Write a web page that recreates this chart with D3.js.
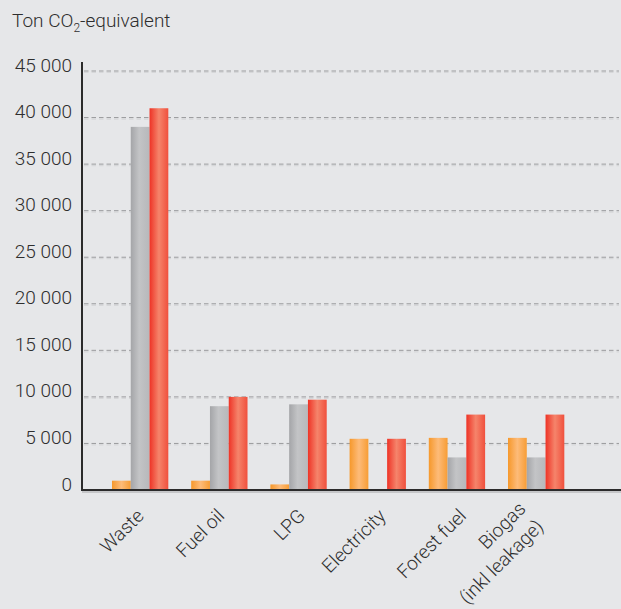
<!DOCTYPE html>
<html>
<head>
<meta charset="utf-8">
<script src="https://cdn.jsdelivr.net/npm/d3@7"></script>
<style>
  html, body { margin: 0; padding: 0; background: #e6e7e9; }
  svg { display: block; }
  text { font-family: Roboto, "Open Sans", sans-serif; fill: #2e2e2e; font-weight: 300; }
</style>
</head>
<body>
<svg id="chart" width="621" height="609"></svg>
<script>
const categories = ["Waste", "Fuel oil", "LPG", "Electricity", "Forest fuel", "Biogas\n(inkl leakage)"];
const seriesNames = ["A", "B", "C"];
const seriesA = [1000, 1000, 600, 5500, 5600, 5600];     // orange
const seriesB = [39000, 9000, 9200, 0, 3500, 3500];      // gray
const seriesC = [41000, 10000, 9700, 5500, 8100, 8100];  // red
const yTicks = [0, 5000, 10000, 15000, 20000, 25000, 30000, 35000, 40000, 45000];
const tickLabels = ["0", "5 000", "10 000", "15 000", "20 000", "25 000", "30 000", "35 000", "40 000", "45 000"];
const yTitle = "Ton CO";

const W = 621, H = 609;
const svg = d3.select("#chart");
const defs = svg.append("defs");

function hGrad(id, stops) {
  const g = defs.append("linearGradient").attr("id", id)
    .attr("x1", "0%").attr("x2", "100%").attr("y1", "0%").attr("y2", "0%");
  stops.forEach(([o, c]) => g.append("stop").attr("offset", o).attr("stop-color", c));
}
hGrad("gOrange", [["0%", "#f6982b"], ["50%", "#fdbb79"], ["100%", "#f79d35"]]);
hGrad("gGray", [["0%", "#a4a5a8"], ["45%", "#c3c4c6"], ["100%", "#b7b8bb"]]);
hGrad("gRed", [["0%", "#ee3326"], ["50%", "#f5846b"], ["100%", "#f0503d"]]);
const fills = ["url(#gOrange)", "url(#gGray)", "url(#gRed)"];

const axisX = 82, axisY = 490;
const y = d3.scaleLinear().domain([0, 45000]).range([axisY, 71]);
const x = d3.scaleBand().domain(categories).range([89.1, 587.2]).padding(0.289);
const xs = d3.scaleBand().domain(seriesNames).range([0, x.bandwidth()]);
const xl = d3.scalePoint().domain(categories).range([145, 548]);

// gridlines
const grid = svg.append("g");
yTicks.filter(t => t > 0).forEach(t => {
  grid.append("line").attr("x1", axisX + 2).attr("x2", 619)
    .attr("y1", y(t) + 1.5).attr("y2", y(t) + 1.5)
    .attr("stroke", "#d6d7d9").attr("stroke-width", 1.2).attr("stroke-dasharray", "4.5,3");
  grid.append("line").attr("x1", axisX + 2).attr("x2", 619)
    .attr("y1", y(t)).attr("y2", y(t))
    .attr("stroke", "#9a9b9d").attr("stroke-width", 1).attr("stroke-dasharray", "4.5,3");
});

// y axis tick labels
const yAxis = d3.axisLeft(y).tickValues(yTicks).tickSize(0).tickPadding(0)
  .tickFormat((d, i) => tickLabels[i]);
const yg = svg.append("g").attr("transform", `translate(72,0)`).call(yAxis);
yg.select(".domain").remove();
yg.selectAll("text").attr("dy", 0).style("font-size", "19px").attr("fill", "#2e2e2e")
  .attr("font-family", "Roboto, sans-serif").attr("font-weight", 300);

// bars
const data = categories.map((c, i) => ({ c, v: [seriesA[i], seriesB[i], seriesC[i]] }));
const groups = svg.append("g").selectAll("g").data(data).join("g")
  .attr("transform", d => `translate(${x(d.c)},0)`);
groups.selectAll("rect").data(d => d.v.map((v, k) => ({ v, k })).filter(e => e.v > 0)).join("rect")
  .attr("x", e => xs(seriesNames[e.k]))
  .attr("width", xs.bandwidth())
  .attr("y", e => y(e.v))
  .attr("height", e => axisY - y(e.v))
  .attr("fill", e => fills[e.k]);

// x axis line and shadow
svg.append("line").attr("x1", axisX).attr("x2", W).attr("y1", axisY + 2).attr("y2", axisY + 2)
  .attr("stroke", "#c5c6c8").attr("stroke-width", 2);
svg.append("line").attr("x1", axisX).attr("x2", W).attr("y1", axisY).attr("y2", axisY)
  .attr("stroke", "#2b2b2b").attr("stroke-width", 2);
// y axis line
svg.append("line").attr("x1", axisX).attr("x2", axisX).attr("y1", 62).attr("y2", axisY + 1)
  .attr("stroke", "#2b2b2b").attr("stroke-width", 2);

// x labels
const lab = svg.append("g").selectAll("text").data(categories).join("text")
  .attr("text-anchor", "end")
  .attr("transform", d => `translate(${xl(d)},517) rotate(-45)`)
  .style("font-size", "19px");
lab.each(function (d) {
  const lines = d.split("\n");
  const t = d3.select(this);
  lines.forEach((l, i) => {
    const multi = lines.length > 1;
    t.append("tspan").attr("x", multi ? -10 : 0)
      .attr("dy", i === 0 ? (multi ? -20 : 0) : 25).text(l);
  });
});

// title
const title = svg.append("text").attr("x", 12).attr("y", 27).style("font-size", "19px");
title.append("tspan").text(yTitle);
title.append("tspan").attr("font-size", "12px").attr("dy", 5).text("2");
title.append("tspan").attr("dy", -5).text("-equivalent");
</script>
</body>
</html>
